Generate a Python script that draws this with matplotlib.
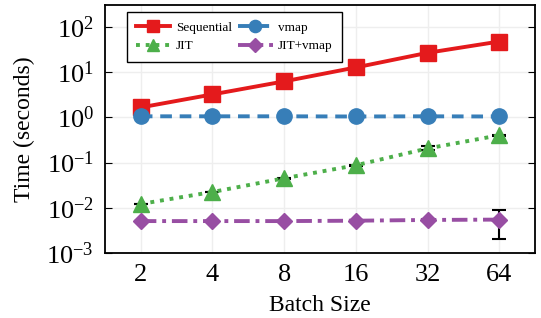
import matplotlib
matplotlib.use('Agg')
import matplotlib.pyplot as plt
import numpy as np

plt.rcParams['font.family'] = ['Liberation Serif', 'DejaVu Serif']
plt.rcParams['mathtext.fontset'] = 'cm'

batch_sizes = [2, 4, 8, 16, 32, 64]
sequential = [1.65, 3.2, 6.2, 12.6, 26.5, 47.0]
vmap = [1.05, 1.05, 1.05, 1.04, 1.05, 1.04]
jit = [0.0122, 0.0224, 0.045, 0.087, 0.205, 0.40]
jit_vmap = [0.0051, 0.0051, 0.0051, 0.0052, 0.0054, 0.0055]

# error bars (lower, upper)
sequential_err = [[0.02, 0.03, 0.05, 0.1, 0.2, 0.3], [0.02, 0.03, 0.05, 0.1, 0.2, 0.3]]
vmap_err = [[0.01] * 6, [0.01] * 6]
jit_err = [[0.0002, 0.0004, 0.0008, 0.002, 0.02, 0.01], [0.0002, 0.0004, 0.0008, 0.002, 0.03, 0.01]]
jit_vmap_err = [[0.0001, 0.0001, 0.0001, 0.0001, 0.0002, 0.0034], [0.0001, 0.0001, 0.0001, 0.0001, 0.0002, 0.0035]]

series = [
    ('Sequential', sequential, sequential_err, '#e41a1c', '-', 's'),
    ('vmap', vmap, vmap_err, '#377eb8', (0, (3, 2)), 'o'),
    ('JIT', jit, jit_err, '#4daf4a', (0, (1, 1.5)), '^'),
    ('JIT+vmap', jit_vmap, jit_vmap_err, '#984ea3', (0, (4, 1.5, 1, 1.5)), 'D'),
]

fig = plt.figure(figsize=(5.41, 3.18), dpi=100)
ax = fig.add_axes([0.194, 0.204, 0.795, 0.78])

handles = {}
for name, vals, err, color, ls, mk in series:
    ax.errorbar(batch_sizes, vals, yerr=err, fmt='none', ecolor='black',
                elinewidth=1.5, capsize=5, capthick=1.5, zorder=2)
    h, = ax.plot(batch_sizes, vals, color=color, linestyle=ls, linewidth=2.8,
                 marker=mk, markersize=11 if mk != 'D' else 8.5, label=name, zorder=3)
    handles[name] = h

ax.set_xscale('log', base=2)
ax.set_yscale('log')
ax.set_xlim(2 / np.sqrt(2), 64 * np.sqrt(2))
ax.set_ylim(1e-3, 300)
ax.set_xticks(batch_sizes)
ax.set_xticklabels([str(b) for b in batch_sizes])
ax.xaxis.set_minor_locator(matplotlib.ticker.NullLocator())
ax.set_yticks([1e-3, 1e-2, 1e-1, 1e0, 1e1, 1e2])
ax.tick_params(axis='x', length=0, labelsize=19, pad=8)
ax.tick_params(axis='y', which='both', direction='in', left=True, right=True, labelsize=19, pad=8)
ax.tick_params(axis='y', which='major', length=5)
ax.tick_params(axis='y', which='minor', length=3)
ax.grid(True, which='major', color='#eeeeee', linewidth=1)
ax.set_axisbelow(True)
for sp in ax.spines.values():
    sp.set_linewidth(1.3)

ax.set_xlabel('Batch Size', fontsize=17, labelpad=6)
ax.set_ylabel('Time (seconds)', fontsize=17, labelpad=8)

order = ['Sequential', 'JIT', 'vmap', 'JIT+vmap']
ax.legend([handles[n] for n in order], order, loc='upper left',
          bbox_to_anchor=(0.051, 0.972), borderaxespad=0, ncol=2, fontsize=9.5,
          handlelength=2.6, markerscale=0.8, fancybox=False, edgecolor='black',
          framealpha=1, columnspacing=0.5, handletextpad=0.4, borderpad=0.7,
          labelspacing=0.5)

fig.savefig('out.png', dpi=100)
